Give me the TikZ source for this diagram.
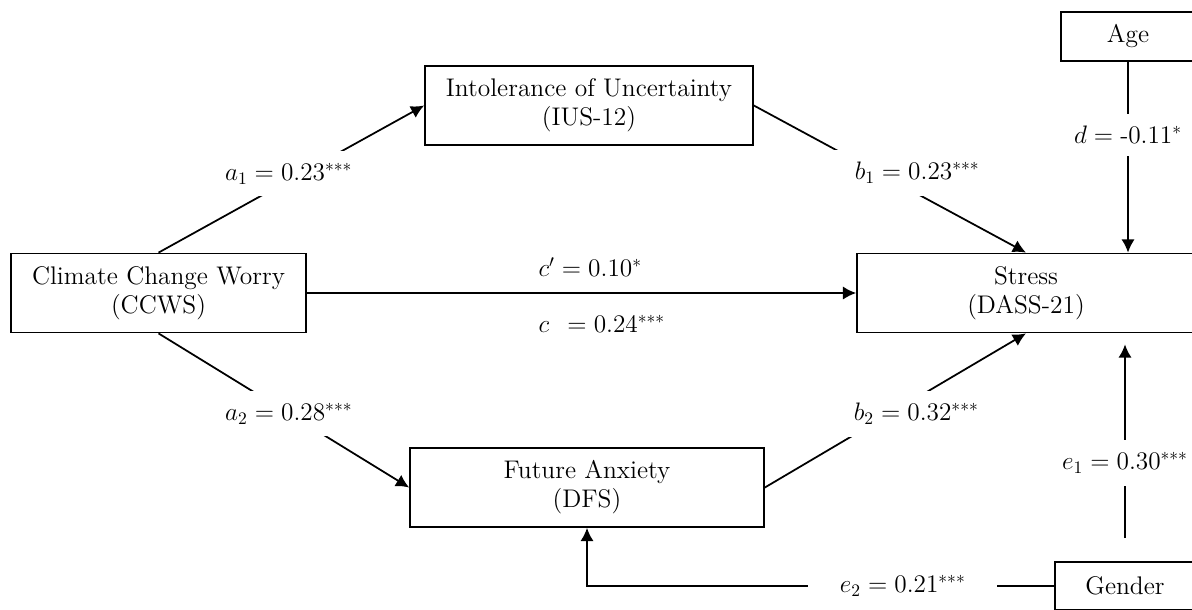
\documentclass[tikz,border=0pt]{standalone}
\usepackage{amsmath}
\usepackage{tikz}
\usetikzlibrary{arrows.meta}
\tikzset{varbox/.style={shape=rectangle,draw=black,line width=1pt,align=center,inner sep=0,font=\fontsize{14.5}{16.5}\selectfont}}
\tikzset{coef/.style={font=\fontsize{14}{16.5}\selectfont,inner sep=1pt}}
\tikzset{cutcoef/.style={coef,fill=white,inner xsep=12pt,inner ysep=7pt}}
\tikzset{effect/.style={line width=1pt,-{Latex[length=7.5pt,width=7.5pt]}}}

\begin{document}
\begin{tikzpicture}[x=0.02cm,y=-0.02cm]
	\useasboundingbox (0,0) rectangle (1192,609);
	\clip (0,0) rectangle (1192,609);

	% variables
	\node[varbox,minimum width=5.9cm,minimum height=1.58cm] (ccws) at (158.5,293) {Climate Change Worry\\(CCWS)};
	\node[varbox,minimum width=6.56cm,minimum height=1.58cm] (ius) at (589,105.5) {Intolerance of Uncertainty\\(IUS-12)};
	\node[varbox,minimum width=7.08cm,minimum height=1.58cm] (fa) at (587,487.5) {Future Anxiety\\(DFS)};
	\node[varbox,minimum width=6.76cm,minimum height=1.58cm] (stress) at (1026,293) {Stress\\(DASS-21)};
	\node[varbox,minimum width=2.68cm,minimum height=0.98cm] (age) at (1128,36.5) {Age};
	\node[varbox,minimum width=2.8cm,minimum height=0.96cm] (gender) at (1125,586) {Gender};

	% indirect paths
	\draw[effect] (ccws.north) -- node[cutcoef,pos=0.49,yshift=0.14cm] (la1) {$a_1 = 0.23^{***}$} (ius.west);
	\draw[effect] (ccws.south) -- node[cutcoef,pos=0.52] (la2) {$a_2 = 0.28^{***}$} (fa.west);
	\draw[effect] (ius.east) -- node[cutcoef,pos=0.6,yshift=0.42cm] (lb1) {$b_1 = 0.23^{***}$} (stress.north);
	\draw[effect] (fa.east) -- node[cutcoef,pos=0.58,yshift=-0.32cm] (lb2) {$b_2 = 0.32^{***}$} (stress.south);

	% direct path
	\draw[effect] (ccws.east) -- node[coef,pos=0.417,anchor=west,yshift=0.52cm] (lcp) {$c' = 0.10^{*}$}
		node[coef,pos=0.417,anchor=west,yshift=-0.62cm] (lc) {$c\;\, = 0.24^{***}$} (stress.west);

	% covariates
	\draw[effect] (age.south) -- node[cutcoef,pos=0.383] (ld) {$d = \mbox{-}0.11^{*}$} (age.south |- stress.north);
	\draw[effect,shorten <=0.46cm,shorten >=0.22cm] (gender.north) -- node[cutcoef,pos=0.43] (le1) {$e_1 = 0.30^{***}$} (gender.north |- stress.south);
	\draw[effect] (gender.west) -| node[cutcoef,inner xsep=18pt,pos=0.162] (le2) {$e_2 = 0.21^{***}$} (fa.south);

\end{tikzpicture}
\end{document}
